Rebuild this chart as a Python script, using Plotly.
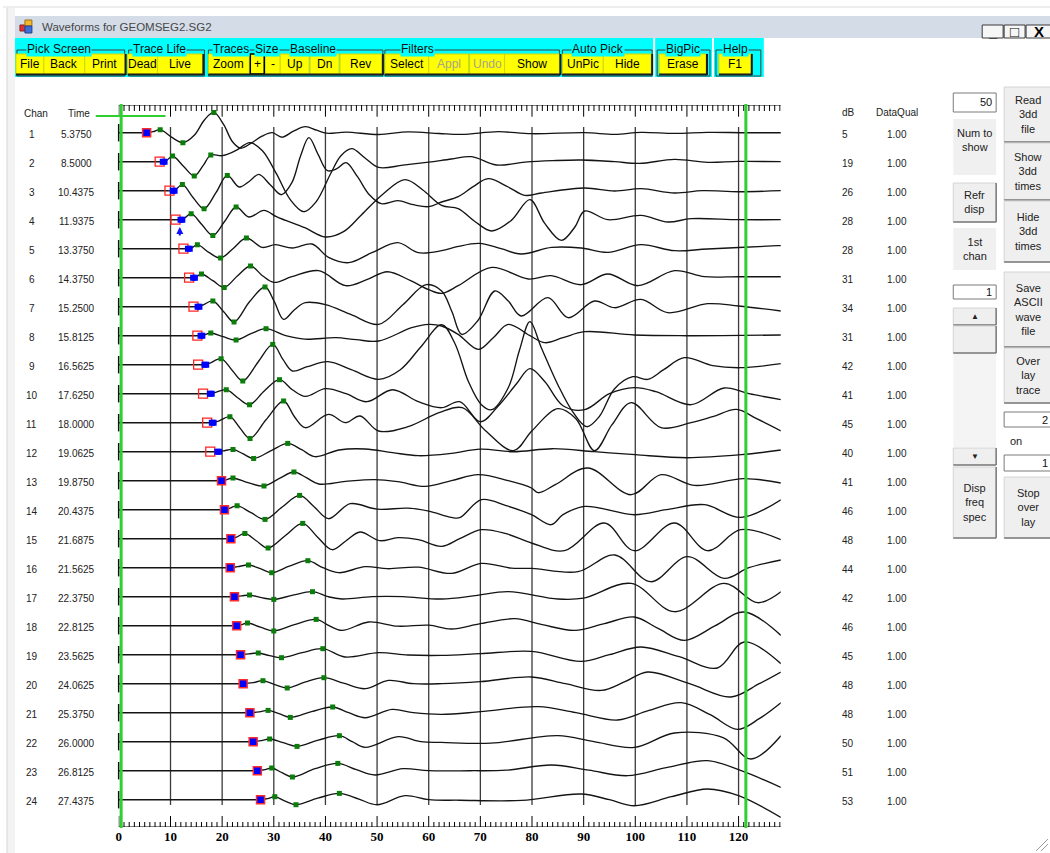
import plotly.graph_objects as go

W, H = 1050, 853

# ---------------------------------------------------------------- channel table
channels = list(range(1, 25))
pick_time_labels = ["5.3750", "8.5000", "10.4375", "11.9375", "13.3750", "14.3750",
                    "15.2500", "15.8125", "16.5625", "17.6250", "18.0000", "19.0625",
                    "19.8750", "20.4375", "21.6875", "21.5625", "22.3750", "22.8125",
                    "23.5625", "24.0625", "25.3750", "26.0000", "26.8125", "27.4375"]
pick_ms = [float(s) for s in pick_time_labels]
# second pick set (outlined squares); equal to the first pick where both agree
alt_pick_ms = [5.375, 7.9, 9.8, 10.97, 12.5, 13.6, 14.45, 15.2, 15.35, 16.3, 17.1, 17.7,
               19.875, 20.4375, 21.6875, 21.5625, 22.375, 22.8125, 23.5625, 24.0625,
               25.375, 26.0, 26.8125, 27.4375]
db_values = [5, 19, 26, 28, 28, 31, 34, 31, 42, 41, 45, 40,
             41, 46, 48, 44, 42, 46, 45, 48, 48, 50, 51, 53]
data_qual = [1.00, 1.00, 1.00, 1.00, 1.00, 1.00, 1.00, 1.00, 1.00, 1.00, 1.00, 1.00,
             1.00, 1.00, 1.00, 1.00, 1.00, 1.00, 1.00, 1.00, 1.00, 1.00, 1.00, 1.00]
time_ticks = [0, 10, 20, 30, 40, 50, 60, 70, 80, 90, 100, 110, 120]

# auto-picked extrema (ms) marked on each trace
green_ms = [[8.0, 12.4, 18.4], [10.4, 14.6, 17.8], [12.3, 16.5, 21.0], [14.0, 18.2, 22.7],
            [15.2, 19.7, 24.7], [16.0, 20.4, 25.5], [18.2, 22.3, 28.3], [17.8, 22.7, 28.5],
            [19.8, 24.0, 29.8], [20.8, 25.3, 31.1], [21.5, 25.4, 31.9], [22.1, 26.1, 32.7],
            [22.1, 28.1, 33.9], [22.9, 28.3, 35.0], [24.4, 28.9, 35.6], [25.1, 29.6, 36.6],
            [25.3, 30.0, 37.5], [24.9, 30.0, 38.2], [27.0, 31.5, 39.5], [27.9, 32.6, 39.7],
            [28.9, 33.2, 41.4], [29.2, 34.5, 42.7], [29.6, 33.6, 42.4], [30.2, 34.3, 42.7]]

# ---------------------------------------------------------------- waveforms (ms, amplitude)
ch01 = [(0, 0), (4.4, 0), (5.4, 0), (6.6, 1.0), (8.0, 3.0), (10.2, -4.5), (12.4, -10.0), (14.6, -2.5),
        (16.6, 13.0), (18.4, 20.3), (20.3, 8.0), (22.0, -9.0), (23.6, -15.5), (25.6, -10.5), (27.7, -3.5),
        (29.7, 0.0), (31.6, -4.5), (33.8, 1.5), (36.1, 6.0), (38.3, 2.5), (40.2, -0.5), (44.0, 0.5),
        (50.3, -1.8), (56.0, 0.8), (62.0, -0.8), (66.4, -1.7), (73.5, 1.0), (79.9, -1.0), (90.2, 0.0),
        (96.0, -1.7), (101.1, 0.3), (107.6, -0.7), (114.0, 0.3), (121.0, 0.0), (128.2, 0.0)]
ch02 = [(0, 0), (7.5, 0), (8.5, 0), (9.3, 1.5), (10.4, 5.7), (12.5, -4.5), (14.6, -14.3), (16.3, -4.0),
        (17.8, 6.7), (20.0, 6.0), (22.6, 11.0), (25.4, 19.0), (27.8, 11.0), (30.5, -12.0), (33.2, -38.0),
        (35.8, -50.0), (38.2, -40.0), (41.0, -12.0), (43.0, 6.0), (45.1, 13.0), (47.6, 4.0), (50.3, -5.7),
        (55.0, -3.5), (60.0, -0.5), (64.4, 2.7), (68.3, 5.0), (73.1, -3.3), (78.6, -0.5), (84.0, 1.0),
        (89.5, 1.7), (96.0, 0.0), (100.8, -1.7), (107.6, 2.3), (114.0, -0.7), (120.0, 0.3), (128.2, 0.0)]
ch03 = [(0, 0), (9.4, 0), (10.44, 0), (11.2, 2.0), (12.3, 6.3), (14.4, -7.0), (16.5, -18.0), (18.8, -2.0),
        (21.0, 15.3), (23.3, 3.7), (25.4, 10.0), (27.1, 16.3), (29.3, 6.0), (31.5, -4.0), (33.5, 8.0),
        (35.2, 35.0), (36.8, 53.0), (38.6, 36.0), (40.4, 20.0), (42.2, 22.0), (44.0, 28.0), (46.2, 14.0),
        (48.5, -4.0), (50.8, -13.0), (54.0, -10.0), (57.0, -14.0), (60.0, -16.0), (62.5, -11.3),
        (65.7, -6.0), (68.6, 4.0), (71.5, 12.0), (75.4, 3.7), (78.6, -4.7), (81.8, -2.3), (90.2, 2.7),
        (96.0, -0.3), (101.1, 2.0), (107.6, -2.3), (113.0, 0.0), (120.0, -1.0), (128.2, 0.0)]
ch04 = [(0, 0), (10.9, 0), (11.94, 0), (12.8, 2.0), (14.0, 6.0), (16.1, -5.0), (18.2, -15.7), (20.5, -1.5),
        (22.7, 12.7), (25.2, 2.7), (28.1, 9.3), (30.5, 3.0), (32.3, -0.7), (36.0, -8.0), (40.0, -17.3),
        (43.5, -12.0), (47.0, 5.0), (51.0, 25.0), (55.4, 40.0), (58.8, 30.0), (62.5, 14.3), (65.7, 11.0),
        (69.0, -2.0), (72.2, -11.3), (76.0, -0.7), (79.6, 20.0), (82.5, -4.0), (85.7, -20.7), (88.3, -7.3),
        (90.2, 8.7), (94.7, 0.0), (101.1, 4.3), (106.3, -2.3), (110.8, 1.0), (120.0, 0.0), (128.2, 0.0)]
ch05 = [(0, 0), (12.4, 0), (13.38, 0), (14.2, 1.0), (15.2, 4.0), (17.5, -4.0), (19.7, -9.3), (22.2, 0.5),
        (24.7, 10.7), (27.8, 1.3), (30.3, 4.0), (33.6, 0.7), (37.4, 4.7), (40.6, -8.7), (44.5, -14.0),
        (49.0, -4.0), (54.0, 6.0), (58.0, -4.0), (62.5, -2.0), (65.5, 2.0), (69.8, 5.3), (74.0, 0.0),
        (77.9, -5.3), (83.8, 1.3), (89.5, 0.7), (94.7, -3.7), (101.1, 4.0), (107.6, -2.0), (114.0, -0.3),
        (127.5, 3.0), (128.2, 3.0)]
ch06 = [(0, 0), (13.4, 0), (14.38, 0), (15.0, 1.0), (16.0, 3.7), (18.2, -3.0), (20.4, -9.7), (23.0, 2.0),
        (25.5, 11.7), (27.8, 2.0), (30.0, -4.7), (33.5, 1.0), (38.7, 7.0), (43.9, -8.0), (48.0, -2.0),
        (52.0, 6.0), (56.5, -3.0), (60.0, -12.0), (62.5, -15.7), (65.7, -8.0), (72.2, 10.3), (79.3, -1.3),
        (83.7, 2.0), (89.5, -7.0), (94.7, 3.7), (100.5, -8.0), (107.6, 7.0), (113.4, 1.0), (120.0, 1.0),
        (128.2, 1.0)]
ch07 = [(0, 0), (14.3, 0), (15.25, 0), (16.2, 1.5), (18.2, 5.7), (20.3, -5.0), (22.3, -15.3), (25.3, 5.0),
        (28.3, 19.7), (30.1, 5.0), (31.9, -12.7), (34.0, -3.0), (36.1, 4.0), (40.0, 2.0), (45.0, -8.0),
        (50.3, -17.7), (55.0, 2.0), (59.5, 22.0), (62.5, 15.7), (64.5, -5.0), (66.4, -27.7), (69.5, -14.0),
        (72.8, 15.7), (75.4, 5.7), (77.9, -9.3), (83.1, 9.0), (87.0, -11.0), (92.1, 5.7), (96.0, -1.0),
        (101.1, 7.3), (106.3, -6.0), (114.0, 3.0), (120.0, 0.7), (128.2, -4.3)]
ch08 = [(0, 0), (14.8, 0), (15.81, 0), (16.6, 1.0), (17.8, 2.7), (20.2, -1.0), (22.7, -4.3), (25.6, 2.0),
        (28.5, 7.0), (32.3, 0.0), (36.0, -3.5), (42.0, -2.0), (46.0, -4.0), (50.3, -5.3), (56.7, 8.0),
        (60.0, 11.3), (62.5, 9.7), (65.7, 1.3), (69.6, -13.7), (72.5, -2.0), (75.4, 11.3), (79.6, 0.0),
        (82.5, -7.0), (86.0, -2.0), (90.2, 4.0), (99.8, 0.7), (110.0, 0.0), (128.2, 0.7)]
ch09 = [(0, 0), (15.6, 0), (16.56, 0), (17.6, 1.5), (19.8, 6.0), (22.0, -6.0), (24.0, -16.3), (27.0, 3.0),
        (29.8, 20.3), (31.8, 5.0), (33.6, -6.3), (36.5, -2.0), (40.5, 3.0), (45.0, -5.0), (50.3, -14.7),
        (54.5, -5.0), (58.5, 18.0), (62.5, 40.0), (65.0, 22.0), (67.7, -17.0), (70.2, -40.0), (72.2, -45.0),
        (75.4, -23.0), (77.6, 15.0), (79.6, 43.0), (81.8, 17.0), (85.0, -20.0), (88.0, -48.0), (90.6, -62.0),
        (93.0, -52.0), (96.0, -24.0), (99.5, -12.0), (102.4, -14.7), (105.5, -5.0), (109.5, 7.0),
        (115.0, -1.0), (120.4, -3.0), (128.2, 1.0)]
ch10 = [(0, 0), (16.6, 0), (17.63, 0), (18.6, 1.0), (20.8, 4.0), (23.0, -4.0), (25.3, -11.0), (28.2, 3.0),
        (31.1, 14.0), (33.6, 4.0), (36.1, -2.7), (40.0, 5.0), (44.0, 0.0), (48.0, -8.0), (53.0, 4.0),
        (58.0, -8.0), (62.5, -14.0), (66.0, -8.0), (70.0, -28.0), (73.5, -12.0), (77.0, 10.0), (79.6, 25.0),
        (82.5, 12.0), (86.0, -12.0), (90.2, -16.0), (95.0, 0.0), (99.8, 6.0), (104.0, 2.0), (110.8, -11.0),
        (117.2, 5.7), (122.0, 0.0), (128.2, -6.0)]
ch11 = [(0, 0), (17.0, 0), (18.0, 0), (19.3, 1.5), (21.5, 6.0), (23.4, -5.0), (25.4, -15.7), (28.5, 3.0),
        (31.9, 21.7), (34.0, 6.0), (36.1, -5.0), (40.6, 8.3), (43.9, 0.0), (46.7, 6.7), (50.3, -8.3),
        (56.0, -4.0), (62.0, 10.0), (66.5, 15.0), (71.0, -8.0), (76.4, -28.0), (80.0, -8.0), (85.0, 14.0),
        (88.5, 4.0), (92.1, -28.0), (95.5, -2.0), (99.2, 20.0), (105.0, -5.0), (110.8, 0.0), (115.0, 6.0),
        (119.6, 13.3), (123.5, 4.0), (128.2, -8.3)]
ch12 = [(0, 0), (18.1, 0), (19.06, 0), (20.2, 0.8), (22.1, 2.3), (24.0, -2.0), (26.1, -6.7), (29.5, 1.0),
        (32.7, 8.3), (35.4, 2.0), (38.0, -5.0), (42.6, 1.7), (47.7, 2.7), (53.0, -1.0), (58.0, -4.0),
        (64.4, -1.7), (70.0, 2.5), (76.4, 0.0), (84.0, 3.0), (92.1, 0.0), (100.0, -3.0), (110.0, -6.0),
        (120.5, -3.0), (128.2, 1.7)]
ch13 = [(0, 0), (18.9, 0), (19.88, 0), (20.9, 1.0), (22.1, 2.7), (25.0, -2.0), (28.1, -5.3), (31.0, 2.0),
        (33.9, 8.7), (36.3, 3.0), (38.7, -3.3), (43.9, -0.7), (49.5, 1.0), (54.0, -1.0), (59.3, -5.7),
        (64.4, 0.0), (69.6, 6.0), (75.4, 0.0), (79.9, -7.3), (81.2, -12.0), (84.5, -4.0), (90.8, 12.7),
        (99.2, -14.0), (105.0, 6.0), (111.4, -4.7), (121.0, 2.0), (128.2, -2.3)]
ch14 = [(0, 0), (19.4, 0), (20.44, 0), (21.5, 1.5), (22.9, 4.0), (25.6, -3.0), (28.3, -9.7), (31.7, 3.0),
        (35.0, 14.3), (37.8, 3.0), (40.6, -9.0), (44.8, 6.0), (50.0, 0.5), (56.0, 1.5), (60.0, -1.5),
        (64.4, -7.7), (66.0, -8.0), (70.2, 10.0), (75.0, 4.0), (79.9, -5.0), (83.7, -15.0), (86.0, -5.0),
        (90.2, 3.3), (99.8, -5.0), (106.0, 0.0), (113.4, 5.0), (120.4, -7.7), (128.2, 10.0)]
ch15 = [(0, 0), (20.7, 0), (21.69, 0), (22.8, 1.5), (24.4, 5.3), (26.6, -2.0), (28.9, -9.3), (32.2, 3.0),
        (35.6, 15.3), (38.4, 2.0), (41.3, -11.0), (44.0, -2.0), (46.7, 6.7), (50.5, -2.0), (54.0, 1.0),
        (58.0, -1.0), (62.5, -7.7), (66.0, 0.0), (70.2, 9.0), (75.0, 5.0), (79.9, -4.3), (86.3, -12.0),
        (94.0, 15.7), (99.8, -12.0), (107.6, 15.7), (114.0, -12.0), (120.4, 9.0), (128.2, -1.0)]
ch16 = [(0, 0), (20.6, 0), (21.56, 0), (23.0, 1.0), (25.1, 2.7), (27.4, -1.0), (29.6, -5.0), (33.0, 1.5),
        (36.6, 7.0), (39.5, 0.0), (42.6, -5.0), (47.7, 1.0), (52.0, -1.0), (58.0, 0.5), (64.4, -5.7),
        (70.2, 4.3), (76.0, -0.5), (80.0, -0.7), (88.9, -4.0), (96.0, 12.7), (103.0, -14.0), (110.1, 11.0),
        (117.2, -10.7), (122.0, 0.0), (128.2, 7.7)]
ch17 = [(0, 0), (21.4, 0), (22.38, 0), (23.8, 0.8), (25.3, 1.7), (27.6, -1.0), (30.0, -2.7), (33.7, 1.5),
        (37.5, 5.0), (40.5, 0.0), (43.2, -2.3), (49.0, 0.0), (55.0, 0.0), (62.5, -2.3), (69.0, 1.0),
        (75.4, 5.0), (85.0, -2.3), (90.0, -1.5), (99.2, 13.3), (107.6, -15.0), (117.2, 13.3), (123.7, -6.0),
        (128.2, 5.0)]
ch18 = [(0, 0), (21.8, 0), (22.81, 0), (23.8, 1.0), (24.9, 2.7), (27.4, -1.5), (30.0, -5.3), (34.0, 1.0),
        (38.2, 6.3), (40.7, 0.0), (43.2, -4.7), (48.4, 3.7), (54.0, -0.5), (60.0, 0.5), (64.4, -3.3),
        (70.0, 2.0), (76.7, 7.0), (82.0, 1.0), (88.3, -4.7), (94.0, 2.0), (99.8, 8.7), (104.5, -3.0),
        (109.5, -14.7), (115.5, 0.0), (121.1, 13.7), (128.2, -9.7)]
ch19 = [(0, 0), (22.6, 0), (23.56, 0), (25.2, 0.8), (27.0, 1.7), (29.2, -1.0), (31.5, -3.0), (35.5, 2.0),
        (39.5, 6.0), (43.8, -2.3), (50.3, 2.0), (56.0, -0.3), (62.5, -0.7), (70.0, 1.0), (79.9, 3.3),
        (89.5, -6.7), (95.0, 0.0), (101.1, 7.7), (108.5, -2.0), (115.9, -13.3), (121.1, 12.7), (128.2, -9.0)]
ch20 = [(0, 0), (23.1, 0), (24.06, 0), (26.0, 1.0), (27.9, 3.0), (30.2, -1.0), (32.6, -4.3), (36.0, 1.5),
        (39.7, 6.0), (43.5, 0.5), (47.7, -5.0), (52.2, 3.3), (57.0, 0.0), (62.5, 0.0), (70.0, 2.0),
        (79.9, 6.7), (86.5, 0.0), (93.4, -6.7), (98.0, 2.0), (102.4, 11.7), (110.5, 0.0), (118.5, -13.3),
        (124.0, 0.0), (128.2, 11.7)]
ch21 = [(0, 0), (24.4, 0), (25.38, 0), (27.2, 0.8), (28.9, 2.3), (31.0, -1.0), (33.2, -4.7), (37.3, 1.0),
        (41.4, 5.7), (44.5, 0.0), (47.7, -5.0), (52.9, 3.3), (57.0, 0.0), (62.5, -1.7), (70.0, 1.0),
        (81.2, 6.0), (88.5, 0.0), (96.6, -7.3), (102.5, 2.0), (108.9, 10.0), (114.5, -2.0), (119.8, -16.7),
        (124.0, -6.0), (128.2, 10.0)]
ch22 = [(0, 0), (25.0, 0), (26.0, 0), (27.6, 1.0), (29.2, 2.7), (31.8, -1.0), (34.5, -4.7), (38.6, 1.5),
        (42.7, 6.0), (45.2, 0.0), (47.7, -5.7), (54.1, 5.0), (58.5, 0.0), (62.5, -0.7), (72.0, -1.5),
        (85.0, 6.0), (92.0, 0.0), (99.8, -5.7), (107.6, 8.7), (117.0, 4.0), (122.4, -17.3), (128.2, 6.0)]
ch23 = [(0, 0), (25.8, 0), (26.81, 0), (28.3, 1.0), (29.6, 2.7), (31.6, -2.0), (33.6, -6.3), (38.0, 2.0),
        (42.4, 7.3), (46.0, 1.0), (49.6, -4.3), (55.0, 2.0), (60.0, 0.0), (68.0, 0.0), (75.0, 0.5),
        (83.8, 5.7), (91.0, 0.5), (98.5, -5.0), (106.0, 3.0), (114.0, 10.0), (120.5, 0.0), (128.2, -16.7)]
ch24 = [(0, 0), (26.4, 0), (27.44, 0), (28.8, 1.0), (30.2, 3.0), (32.2, -1.5), (34.3, -5.0), (38.5, 1.5),
        (42.7, 6.3), (46.5, 0.5), (50.0, -5.0), (55.4, 4.0), (60.0, 0.0), (66.0, -0.5), (78.0, -0.7),
        (89.5, 5.7), (95.0, 0.0), (99.8, -6.0), (107.0, 3.0), (114.0, 10.7), (120.0, 4.0), (128.2, -17.7)]

waves = [ch01, ch02, ch03, ch04, ch05, ch06, ch07, ch08, ch09, ch10, ch11, ch12,
         ch13, ch14, ch15, ch16, ch17, ch18, ch19, ch20, ch21, ch22, ch23, ch24]

# ---------------------------------------------------------------- geometry of the trace panel
PLOT_X0, PLOT_X1 = 116, 780          # panel edges (px)
T0_PX, PX_PER_MS = 116.2, 5.179      # time 0 position and scale
PLOT_Y0, PLOT_Y1 = 105, 827          # ruler lines (px)
ROW1_PX, ROW_STEP = 132.7, 29.0      # first trace baseline and spacing (px)
GAIN = 1.0 / ROW_STEP                # amplitude units -> trace spacing units


def t_at(px):
    return (px - T0_PX) / PX_PER_MS


def row_at(py):
    return 1 + (py - ROW1_PX) / ROW_STEP


def hx(x):
    return x / W


def vy(y):
    return 1 - y / H


T_LEFT, T_RIGHT = t_at(PLOT_X0), t_at(PLOT_X1)

fig = go.Figure()

# traces
for ch, w in zip(channels, waves):
    fig.add_trace(go.Scatter(
        x=[p[0] for p in w], y=[ch - p[1] * GAIN for p in w], mode="lines",
        line=dict(color="#141414", width=1.35, shape="spline", smoothing=1.0),
        hoverinfo="skip"))

# millisecond rulers along the top and bottom edges
ms_marks = [m for m in range(0, 129)]
for base_px, minor_px, major_px in ((PLOT_Y0, 111.0, 116.7), (PLOT_Y1, 822.0, 816.0)):
    rx = [T_LEFT, T_RIGHT, None]
    ry = [row_at(base_px), row_at(base_px), None]
    for m in ms_marks:
        rx += [m, m, None]
        ry += [row_at(base_px), row_at(major_px if m % 10 == 0 else minor_px), None]
    fig.add_trace(go.Scatter(x=rx, y=ry, mode="lines", hoverinfo="skip",
                             line=dict(color="#000000", width=1)))

# green extrema markers, taken from the trace points
gx, gy = [], []
for ch, w, marks in zip(channels, waves, green_ms):
    for m in marks:
        p = min(w, key=lambda q: abs(q[0] - m))
        gx.append(p[0])
        gy.append(ch - p[1] * GAIN)
fig.add_trace(go.Scatter(x=gx, y=gy, mode="markers", hoverinfo="skip",
                         marker=dict(symbol="square", size=5, color="#0a7d0a")))

# picks
same_x, same_y, off_x, off_y, red_x, red_y = [], [], [], [], [], []
for ch, p, a in zip(channels, pick_ms, alt_pick_ms):
    if abs(p - a) < 1e-6:
        same_x.append(p)
        same_y.append(ch)
    else:
        off_x.append(p)
        off_y.append(ch)
        red_x.append(a)
        red_y.append(ch)
fig.add_trace(go.Scatter(x=red_x, y=red_y, mode="markers", hoverinfo="skip",
                         marker=dict(symbol="square-open", size=9, color="#ff2424",
                                     line=dict(width=1.3, color="#ff2424"))))
fig.add_trace(go.Scatter(x=off_x + [v + 0.35 for v in off_x], y=off_y + off_y, mode="markers",
                         hoverinfo="skip",
                         marker=dict(symbol="square", size=6, color="#0000ff",
                                     line=dict(width=0))))
fig.add_trace(go.Scatter(x=same_x, y=same_y, mode="markers", hoverinfo="skip",
                         marker=dict(symbol="square", size=8, color="#0000ff",
                                     line=dict(width=1.5, color="#ff2a2a"))))

shapes = []
annotations = []


def rect(x0, y0, x1, y1, fill, line=None, lw=1):
    shapes.append(dict(type="rect", xref="paper", yref="paper",
                       x0=hx(x0), x1=hx(x1), y0=vy(y1), y1=vy(y0), fillcolor=fill,
                       line=dict(color=line if line else fill, width=lw if line else 0),
                       layer="above"))


def seg(x0, y0, x1, y1, color, width=1):
    shapes.append(dict(type="line", xref="paper", yref="paper",
                       x0=hx(x0), y0=vy(y0), x1=hx(x1), y1=vy(y1),
                       line=dict(color=color, width=width), layer="above"))


def text(x, y, s, size=11, color="#222222", anchor="center", family="Liberation Sans",
         bg=None, weight="normal"):
    a = dict(xref="paper", yref="paper", x=hx(x), y=vy(y), text=s, showarrow=False,
             xanchor=anchor, yanchor="middle", borderpad=0,
             font=dict(family=family, size=size, color=color, weight=weight))
    if bg:
        a["bgcolor"] = bg
    annotations.append(a)


# vertical time grid
for t in time_ticks[1:]:
    shapes.append(dict(type="line", xref="x", yref="y", x0=t, x1=t,
                       y0=row_at(127), y1=row_at(805),
                       line=dict(color="#3a3a3a", width=1.3), layer="below"))

# dashed left edge, one dash per trace
for ch in channels:
    shapes.append(dict(type="line", xref="paper", yref="y", x0=hx(116.0), x1=hx(116.0),
                       y0=ch - 0.3, y1=ch + 0.3, line=dict(color="#111111", width=1.5),
                       layer="above"))

# green time-window markers
for t in (t_at(118.5), t_at(745.0)):
    shapes.append(dict(type="line", xref="x", yref="paper", x0=t, x1=t,
                       y0=vy(828), y1=vy(104), line=dict(color="#2fcf2f", width=3),
                       layer="above"))
seg(93, 116, 163, 116, "#2fcf2f", 2)

# blue arrow below channel 4 pick
annotations.append(dict(x=t_at(177.3), y=row_at(227.0), xref="x", yref="y", text="",
                        showarrow=True, ax=0, ay=10, arrowhead=2, arrowsize=0.7,
                        arrowwidth=2, arrowcolor="#1010ff", standoff=0))

# row labels
text(33, 114, "Chan", 10)
text(76, 114, "Time", 10)
text(840, 113, "dB", 10, anchor="left")
text(897, 113, "DataQual", 10)
for ch, lab, db, q in zip(channels, pick_time_labels, db_values, data_qual):
    yy = ROW1_PX + (ch - 1) * ROW_STEP + 1.5
    text(29, yy, str(ch), 10)
    text(74, yy, lab, 10)
    text(840, yy, str(db), 10, anchor="left")
    text(897, yy, f"{q:.2f}", 10)

# ---------------------------------------------------------------- window chrome
seg(0, 7, W, 7, "#dcdcdc", 1)
rect(4, 8, 12, H, "#f3f3f3")
seg(4, 8, 4, H, "#d6d6d6", 1)
rect(12, 16, W, 38, "#d3dce7")
rect(17, 25, 23, 31, "#e03030", "#902020", 1)
rect(22, 20, 29, 26, "#f2b92a", "#a07010", 1)
rect(22, 26, 29, 33, "#3a6fd8", "#204090", 1)
text(38, 27, "Waveforms for GEOMSEG2.SG2", 11.5, "#474747", anchor="left")
for x0, x1, s in ((982, 1003, "_"), (1004, 1025, "\u25a1"), (1026, 1052, "X")):
    rect(x0, 25, x1, 38, "#f6f6f6", "#3a3a3a", 1)
    text((x0 + x1) / 2, 31.5, s, 15, "#000000", weight="bold")

# toolbar
rect(12, 38, 652, 77, "#00ffff")
rect(654, 38, 711, 77, "#00ffff")
rect(713, 38, 763, 77, "#00ffff")
groups = [(14, 122), (126, 202), (206, 381), (383, 558), (561, 651), (656, 709), (715, 760)]
for x0, x1 in groups:
    rect(x0, 50, x1, 76, "rgba(0,0,0,0)", "#3c3c3c", 1)
group_labels = [(23, "Pick Screen"), (129, "Trace Life"), (210, "Traces"), (252, "Size"),
                (287, "Baseline"), (398, "Filters"), (570, "Auto Pick"), (664, "BigPic"),
                (721, "Help")]
for x, s in group_labels:
    text(x, 48.5, s, 12, "#101010", anchor="left", bg="#00ffff")
buttons = [(13, 41, "File"), (41, 82, "Back"), (82, 122, "Print"), (125, 155, "Dead"),
           (155, 200, "Live"), (206, 247, "Zoom"), (248, 262, "+"), (263, 278, "-"),
           (278, 307, "Up"), (308, 337, "Dn"), (338, 380, "Rev"), (383, 427, "Select"),
           (427, 467, "Appl"), (468, 503, "Undo"), (503, 558, "Show"), (561, 602, "UnPic"),
           (602, 650, "Hide"), (658, 705, "Erase"), (718, 750, "F1")]
disabled = ("Appl", "Undo")
for x0, x1, s in buttons:
    rect(x0, 54, x1, 74, "#ffff00", "#d6d600", 1)
    text((x0 + x1) / 2, 64, s, 12, "#a4a48a" if s in disabled else "#000000")
rect(248, 54, 262, 74, "rgba(0,0,0,0)", "#000000", 1.5)
for x0, x1 in ((13, 122), (125, 200), (206, 380), (383, 558), (561, 650), (658, 705), (718, 750)):
    seg(x0, 74.5, x1 + 1, 74.5, "#1e1e1e", 2)
    seg(x1 + 1, 54, x1 + 1, 75, "#1e1e1e", 2)


# ---------------------------------------------------------------- side controls
def button(x0, y0, x1, y1, s, size=11):
    rect(x0, y0, x1, y1, "#efefef", "#d4d4d4", 1)
    seg(x0, y1, x1, y1, "#7a7a7a", 1.5)
    seg(x1, y0, x1, y1, "#7a7a7a", 1.5)
    if s:
        text((x0 + x1) / 2, (y0 + y1) / 2, s, size, "#222222")


def edit(x0, y0, x1, y1, s):
    rect(x0, y0, x1, y1, "#ffffff", "#7a7a7a", 1)
    text(x1 - 3, (y0 + y1) / 2, s, 11, "#111111", anchor="right")


def label(x0, y0, x1, y1, s, ty):
    rect(x0, y0, x1, y1, "#f0f0f0")
    text((x0 + x1) / 2, ty, s, 11, "#222222")


edit(953, 93, 996, 112, "50")
label(953, 119, 996, 175, "Num to<br>show", 140)
button(953, 183, 996, 222, "Refr<br>disp")
label(953, 228, 996, 270, "1st<br>chan", 249)
edit(953, 285, 996, 299, "1")
button(953, 308, 996, 325, "\u25b2", 8)
button(953, 326, 996, 353, "")
rect(953, 354, 996, 447, "#f4f4f4")
button(953, 448, 996, 465, "\u25bc", 8)
button(953, 467, 996, 538, "Disp<br>freq<br>spec")

button(1004, 87, 1052, 142, "Read<br>3dd<br>file")
button(1004, 143, 1052, 200, "Show<br>3dd<br>times")
button(1004, 201, 1052, 262, "Hide<br>3dd<br>times")
button(1004, 272, 1052, 347, "Save<br>ASCII<br>wave<br>file")
button(1004, 348, 1052, 403, "Over<br>lay<br>trace")
edit(1004, 412, 1052, 427, "2")
text(1009, 441, "on", 11, anchor="left")
edit(1004, 455, 1052, 471, "1")
button(1004, 477, 1052, 538, "Stop<br>over<br>lay")

# resize grip
seg(1036, 851, 1048, 839, "#9a9a9a", 1)
seg(1041, 851, 1048, 844, "#9a9a9a", 1)

fig.update_layout(
    width=W, height=H, margin=dict(l=0, r=0, t=0, b=0),
    paper_bgcolor="#ffffff", plot_bgcolor="#ffffff", showlegend=False,
    font=dict(family="Liberation Sans", size=11, color="#222222"),
    shapes=shapes, annotations=annotations,
    xaxis=dict(domain=[hx(PLOT_X0), hx(PLOT_X1)], range=[T_LEFT, T_RIGHT],
               showgrid=False, zeroline=False, showline=False, ticks="",
               tickmode="array", tickvals=time_ticks, ticktext=[str(v) for v in time_ticks],
               tickfont=dict(family="Liberation Serif", size=13, color="#000000", weight="bold"),
               fixedrange=True),
    yaxis=dict(domain=[vy(PLOT_Y1), vy(PLOT_Y0)], range=[row_at(PLOT_Y1), row_at(PLOT_Y0)],
               visible=False, fixedrange=True),
)

fig.write_html("out.html")
